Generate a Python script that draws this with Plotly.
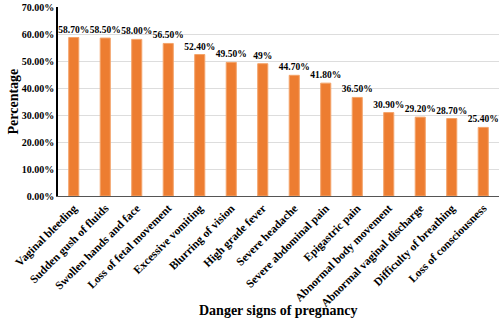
import plotly.graph_objects as go

categories = ["Vaginal bleeding", "Sudden gush of fluids", "Swollen hands and face",
              "Loss of fetal movement", "Excessive vomiting", "Blurring of vision",
              "High grade fever", "Severe headache", "Severe abdominal pain",
              "Epigastric pain", "Abnormal body movement", "Abnormal vaginal discharge",
              "Difficulty of breathing", "Loss of consciousness"]
values = [58.70, 58.50, 58.00, 56.50, 52.40, 49.50, 49.0, 44.70, 41.80, 36.50, 30.90, 29.20, 28.70, 25.40]
labels = ["58.70%", "58.50%", "58.00%", "56.50%", "52.40%", "49.50%", "49%", "44.70%",
          "41.80%", "36.50%", "30.90%", "29.20%", "28.70%", "25.40%"]
y_ticks = [0, 10, 20, 30, 40, 50, 60, 70]
y_tick_text = ["0.00%", "10.00%", "20.00%", "30.00%", "40.00%", "50.00%", "60.00%", "70.00%"]

FONT = "Liberation Serif"

fig = go.Figure(go.Bar(
    x=categories, y=values, text=labels, textposition="outside",
    constraintext="none",
    textfont=dict(family=FONT, size=9.5, color="black", weight="bold"),
    marker=dict(color="#ED7D31", line=dict(color="#F4A46A", width=1)),
    cliponaxis=False,
))

fig.update_layout(
    width=500, height=324,
    margin=dict(l=58, r=1, t=7, b=128),
    plot_bgcolor="white", paper_bgcolor="white",
    bargap=0.68,
    showlegend=False,
    font=dict(family=FONT, color="black"),
    xaxis=dict(
        tickangle=-45, automargin=False, ticklabeloverflow="allow",
        tickfont=dict(family=FONT, size=11.5, color="black", weight="bold"),
        showline=True, linecolor="#555555", linewidth=1, ticks="",
    ),
    yaxis=dict(
        range=[0, 70], tickvals=y_ticks, ticktext=y_tick_text,
        automargin=False, ticklabeloverflow="allow",
        tickfont=dict(family=FONT, size=10, color="black", weight="bold"),
        showline=True, linecolor="black", linewidth=1.5,
        showgrid=True, gridcolor="#DDDDDD", gridwidth=1, zeroline=False,
    ),
    annotations=[
        dict(text="Danger signs of pregnancy", xref="paper", yref="paper",
             x=0.5, y=-0.605, xanchor="center", yanchor="middle", showarrow=False,
             font=dict(family=FONT, size=14, color="black", weight="bold")),
        dict(text="Percentage", xref="paper", yref="paper",
             x=-0.102, y=0.5, xanchor="center", yanchor="middle", showarrow=False,
             textangle=-90,
             font=dict(family=FONT, size=14, color="black", weight="bold")),
    ],
)

fig.write_html("out.html", config={"displayModeBar": False},
               post_script="document.body.style.margin='0';")
